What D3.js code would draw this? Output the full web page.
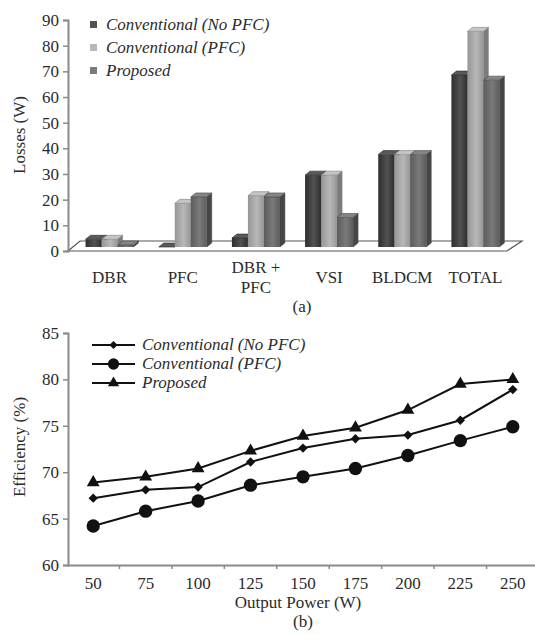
<!DOCTYPE html>
<html>
<head>
<meta charset="utf-8">
<script src="https://cdn.jsdelivr.net/npm/d3@7"></script>
<style>
  html, body { margin: 0; padding: 0; background: #fff; }
  svg { display: block; }
  text { font-family: "Liberation Serif", "DejaVu Serif", serif; fill: #2b2b2b; }
</style>
</head>
<body>
<svg id="fig" width="535" height="635"></svg>
<script>
// ---- (a) loss breakdown ----
const lossCategories = ["DBR", "PFC", "DBR + PFC", "VSI", "BLDCM", "TOTAL"];
const lossSeries = ["Conventional (No PFC)", "Conventional (PFC)", "Proposed"];
const lossNoPfc = [3, 0, 3.5, 28, 36, 67];
const lossPfc = [3, 17, 20, 28, 36, 84];
const lossProposed = [0.8, 19.5, 19.5, 11.5, 36, 65];
const lossTicks = [0, 10, 20, 30, 40, 50, 60, 70, 80, 90];

// ---- (b) efficiency vs output power ----
const powerLevels = [50, 75, 100, 125, 150, 175, 200, 225, 250];
const effSeries = ["Conventional (No PFC)", "Conventional (PFC)", "Proposed"];
const effNoPfc = [67.2, 68.1, 68.4, 71.1, 72.6, 73.6, 74.0, 75.6, 78.9];
const effPfc = [64.2, 65.8, 66.9, 68.6, 69.5, 70.4, 71.8, 73.4, 74.9];
const effProposed = [68.9, 69.5, 70.4, 72.3, 73.9, 74.8, 76.7, 79.5, 80.0];
const effTicks = [60, 65, 70, 75, 80, 85];

const svg = d3.select("#fig");
const FONT = 17;

// ===================== (a) 3-D clustered bars =====================
const lossValues = [lossNoPfc, lossPfc, lossProposed];
const barShades = [
  { l: "#2e2e2e", r: "#525252", side: "#262626", top: "#5a5a5a" },
  { l: "#969696", r: "#b8b8b8", side: "#7c7c7c", top: "#c4c4c4" },
  { l: "#5c5c5c", r: "#7a7a7a", side: "#464646", top: "#858585" }
];

const defs = svg.append("defs");
barShades.forEach((s, i) => {
  const g = defs.append("linearGradient").attr("id", "bar" + i)
    .attr("x1", 0).attr("x2", 1).attr("y1", 0).attr("y2", 0);
  g.append("stop").attr("offset", "0%").attr("stop-color", s.l);
  g.append("stop").attr("offset", "55%").attr("stop-color", s.r);
  g.append("stop").attr("offset", "100%").attr("stop-color", s.l);
});

const yA = d3.scaleLinear().domain([0, 90]).range([251, 20]);
const xA = d3.scaleBand().domain(lossCategories).range([74, 513]);
const xS = d3.scaleBand().domain(lossSeries).range([-25, 23]);

const axisX0 = 68;
const floorDx = 12, floorDy = 10;   // depth of the floor
const floorRight = 507;
const lift = 4;                       // bars stand a little behind the front edge
const dx = 5, dy = 4;                 // bar depth

const gA = svg.append("g");

// floor
const f0 = yA(0);
gA.append("path")
  .attr("d", d3.line()([
    [axisX0, f0], [axisX0 + floorDx, f0 - floorDy],
    [floorRight + 15, f0 - floorDy], [floorRight, f0]
  ]) + "Z")
  .attr("fill", "#fff").attr("stroke", "#555").attr("stroke-width", 1.2);

// y axis
const axA = gA.append("g").attr("transform", `translate(${axisX0},0)`)
  .call(d3.axisLeft(yA).tickValues(lossTicks).tickSize(5).tickPadding(4).tickFormat(d3.format("d")));
axA.select(".domain").attr("stroke", "#8a8a8a").attr("stroke-width", 2);
axA.selectAll(".tick line").attr("stroke", "#8a8a8a").attr("stroke-width", 1.5);
axA.selectAll(".tick text").style("font-size", FONT + "px").attr("fill", "#2b2b2b")
  .style("font-family", "'Liberation Serif', serif");

// bars
lossCategories.forEach((cat, ci) => {
  lossSeries.forEach((ser, si) => {
    const v = lossValues[si][ci];
    const x0 = xA(cat) + xA.bandwidth() / 2 + xS(ser);
    const w = xS.bandwidth();
    const top = yA(v) - lift;
    const bot = yA(0) - lift;
    const s = barShades[si];
    const g = gA.append("g");
    // right side
    g.append("path")
      .attr("d", d3.line()([[x0 + w, top], [x0 + w + dx, top - dy], [x0 + w + dx, bot - dy], [x0 + w, bot]]) + "Z")
      .attr("fill", s.side).attr("stroke", s.side).attr("stroke-width", 0.5);
    // front face
    g.append("rect").attr("x", x0).attr("y", top)
      .attr("width", w).attr("height", Math.max(0, bot - top))
      .attr("fill", `url(#bar${si})`);
    // top face
    g.append("path")
      .attr("d", d3.line()([[x0, top], [x0 + dx, top - dy], [x0 + w + dx, top - dy], [x0 + w, top]]) + "Z")
      .attr("fill", s.top).attr("stroke", s.side).attr("stroke-width", 0.6);
  });
});

// category labels
lossCategories.forEach(cat => {
  const cx = xA(cat) + xA.bandwidth() / 2 - 1;
  const lines = cat.split(/(?<=\+) /);
  const t = gA.append("text").attr("text-anchor", "middle")
    .style("font-size", FONT + "px");
  const y0 = lines.length > 1 ? 273 : 283;
  lines.forEach((ln, i) => {
    t.append("tspan").attr("x", cx).attr("y", y0 + i * 20).text(ln);
  });
});

// y title
gA.append("text").attr("transform", "translate(25,135) rotate(-90)")
  .attr("text-anchor", "middle").style("font-size", FONT + "px").text("Losses (W)");

// legend
const legA = gA.append("g");
lossSeries.forEach((ser, i) => {
  const yy = 25 + i * 23;
  legA.append("rect").attr("x", 90).attr("y", yy - 4).attr("width", 7).attr("height", 7)
    .attr("fill", barShades[i].r);
  legA.append("text").attr("x", 106).attr("y", yy + 5)
    .style("font-size", FONT + "px").style("font-style", "italic").text(ser);
});

gA.append("text").attr("x", 302).attr("y", 312).attr("text-anchor", "middle")
  .style("font-size", FONT + "px").text("(a)");

// ===================== (b) efficiency lines =====================
const effValues = [effNoPfc, effPfc, effProposed];
const yB = d3.scaleLinear().domain([60, 85]).range([565, 333]);
const xB = d3.scaleBand().domain(powerLevels).range([67, 539]);

const diamond = {
  draw(ctx, size) {
    const r = Math.sqrt(size / 2);
    ctx.moveTo(0, -r); ctx.lineTo(r, 0); ctx.lineTo(0, r); ctx.lineTo(-r, 0); ctx.closePath();
  }
};
const markerTypes = [
  d3.symbol().type(diamond).size(44),
  d3.symbol().type(d3.symbolCircle).size(140),
  d3.symbol().type(d3.symbolTriangle).size(72)
];
const legendMarkers = [
  d3.symbol().type(diamond).size(34),
  d3.symbol().type(d3.symbolCircle).size(100),
  d3.symbol().type(d3.symbolTriangle).size(55)
];

const gB = svg.append("g");

// x axis with ticks between categories
const axB = gB.append("g").attr("transform", `translate(0,${yB(60)})`)
  .call(d3.axisBottom(xB).tickSize(0).tickPadding(12));
axB.select(".domain").attr("stroke", "#8a8a8a").attr("stroke-width", 2);
axB.selectAll(".tick text").style("font-size", FONT + "px").attr("fill", "#2b2b2b")
  .style("font-family", "'Liberation Serif', serif");
gB.append("g").selectAll("line")
  .data(powerLevels.slice(1))
  .join("line")
  .attr("x1", d => xB(d)).attr("x2", d => xB(d))
  .attr("y1", yB(60)).attr("y2", yB(60) + 4)
  .attr("stroke", "#8a8a8a").attr("stroke-width", 1.5);

// y axis
const ayB = gB.append("g").attr("transform", `translate(68,0)`)
  .call(d3.axisLeft(yB).tickValues(effTicks).tickSize(5).tickPadding(4));
ayB.select(".domain").attr("stroke", "#8a8a8a").attr("stroke-width", 2);
ayB.selectAll(".tick line").attr("stroke", "#8a8a8a").attr("stroke-width", 1.5);
ayB.selectAll(".tick text").style("font-size", FONT + "px").attr("fill", "#2b2b2b")
  .style("font-family", "'Liberation Serif', serif");

// series lines + markers
const lineB = d3.line()
  .x((d, i) => xB(powerLevels[i]) + xB.bandwidth() / 2)
  .y(d => yB(d));
effValues.forEach((vals, si) => {
  gB.append("path").attr("d", lineB(vals)).attr("fill", "none")
    .attr("stroke", "#111").attr("stroke-width", 2);
  gB.append("g").selectAll("path")
    .data(vals)
    .join("path")
    .attr("transform", (d, i) => `translate(${xB(powerLevels[i]) + xB.bandwidth() / 2},${yB(d)})`)
    .attr("d", markerTypes[si])
    .attr("fill", "#111");
});

// axis titles
gB.append("text").attr("transform", "translate(25,447) rotate(-90)")
  .attr("text-anchor", "middle").style("font-size", FONT + "px").text("Efficiency (%)");
gB.append("text").attr("x", 298).attr("y", 608).attr("text-anchor", "middle")
  .style("font-size", FONT + "px").text("Output Power (W)");
gB.append("text").attr("x", 303).attr("y", 627).attr("text-anchor", "middle")
  .style("font-size", FONT + "px").text("(b)");

// legend
const legB = gB.append("g");
effSeries.forEach((ser, i) => {
  const yy = 345 + i * 19;
  legB.append("line").attr("x1", 92).attr("x2", 135).attr("y1", yy).attr("y2", yy)
    .attr("stroke", "#111").attr("stroke-width", 2);
  legB.append("path").attr("transform", `translate(113.5,${yy})`).attr("d", legendMarkers[i]).attr("fill", "#111");
  legB.append("text").attr("x", 142).attr("y", yy + 5)
    .style("font-size", FONT + "px").style("font-style", "italic").text(ser);
});
</script>
</body>
</html>
